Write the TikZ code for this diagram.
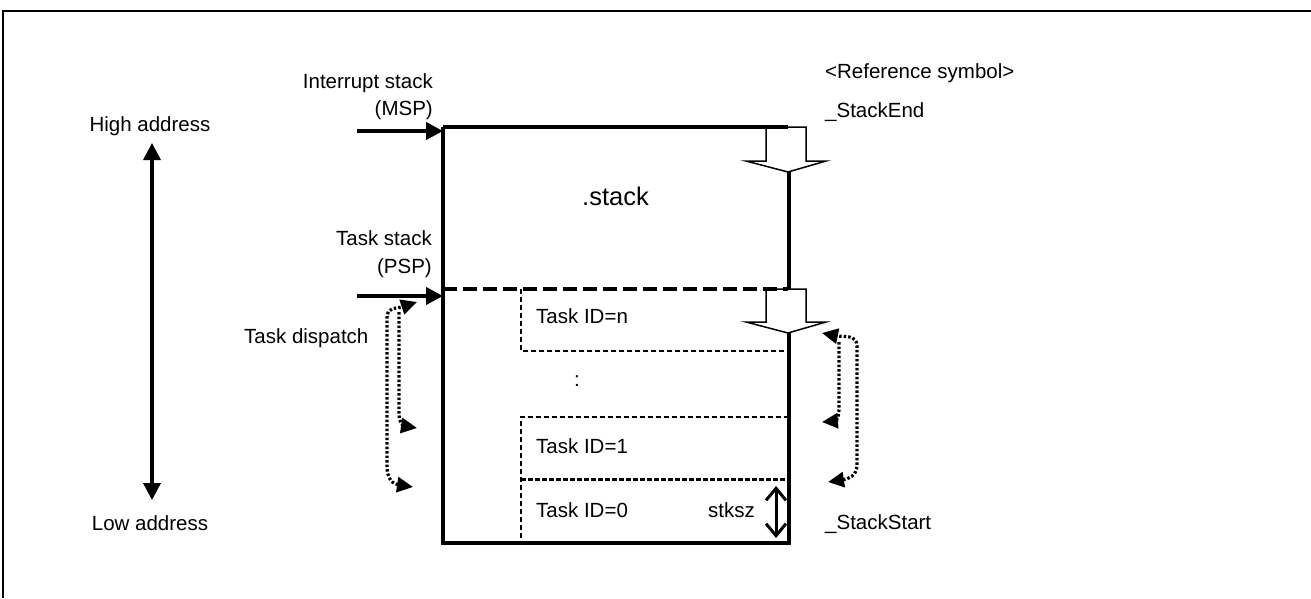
\documentclass[tikz,border=0pt]{standalone}
\usepackage{fontspec}
\setmainfont{Liberation Sans}
\usetikzlibrary{arrows.meta}
\tikzset{dtip/.tip={Triangle[length=16pt,width=15pt]}}
\begin{document}
\begin{tikzpicture}[x=1pt,y=-1pt,
  lbl/.style={inner sep=0pt, font=\fontsize{20.5}{24}\selectfont},
  boxline/.style={line width=3.5pt},
  taskline/.style={line width=1.5pt, dash pattern=on 5pt off 3pt},
  openarrow/.style={draw, fill=white, line width=1.5pt, line join=miter},
  solidarrow/.style={line width=4pt, -{Triangle[length=17pt,width=17pt]}},
  addrarrow/.style={line width=3.5pt, {Triangle[length=17pt,width=17pt]}-{Triangle[length=17pt,width=17pt]}},
  disp/.style={line width=3.2pt, dash pattern=on 2.5pt off 2pt}
]
\useasboundingbox (0,0) rectangle (1311,598);
% frame
\draw[line width=2pt] (3,598) -- (3,11) -- (1311,11);

% labels
\node[lbl, anchor=base] (high) at (150,131) {High address};
\node[lbl, anchor=base] (low) at (150,530) {Low address};
\node[lbl, anchor=base east] (isx) at (433,88) {Interrupt stack};
\node[lbl, anchor=base east] (msp) at (433,115) {(MSP)};
\node[lbl, anchor=base east] (tsx) at (432,245) {Task stack};
\node[lbl, anchor=base east] (psp) at (432,273) {(PSP)};
\node[lbl, anchor=base west] (disp) at (244,343) {Task dispatch};
\node[lbl, anchor=base west, font=\fontsize{25.5}{30}\selectfont] (stk) at (582,205) {.stack};
\node[lbl, anchor=base west] (tn) at (536,323) {Task ID=n};
\node[lbl, anchor=base west] (dots) at (574,386) {:};
\node[lbl, anchor=base west] (t1) at (536,453) {Task ID=1};
\node[lbl, anchor=base west] (t0) at (536,517) {Task ID=0};
\node[lbl, anchor=base west] (sz) at (708,517) {stksz};
\node[lbl, anchor=base west] (ref) at (825,78) {<Reference symbol>};
\node[lbl, anchor=base west] (send) at (825,117) {\_StackEnd};
\node[lbl, anchor=base west] (sstart) at (825,529) {\_StackStart};

% coordinates
\coordinate (tl) at (443,127);
\coordinate (tr) at (789,127);
\coordinate (bl) at (443,543);
\coordinate (br) at (789,543);
\coordinate (ml) at (443,289);
\coordinate (mr) at (789,289);

% box sides
\draw[boxline] (tl) -- (bl) -- (br) -- (tr);

% task boxes
\draw[taskline] (521,289) -- (521,351) -- (789,351);
\draw[taskline] (789,417) -- (521,417) -- (521,543);
\draw[line width=3pt, dash pattern=on 5pt off 2pt] (521,479) -- (789,479);

% open arrows
\draw[openarrow] (766,127) -- (806,127) -- (806,161) -- (826,161) -- (788,172) -- (746,161) -- (766,161) -- cycle;
\draw[openarrow] (766,289) -- (806,289) -- (806,322) -- (826,322) -- (788,333) -- (746,322) -- (766,322) -- cycle;

% top and dashed separator
\draw[boxline] (tl) -- (788,127);
\draw[line width=4pt, dash pattern=on 14pt off 6pt] (ml) -- (788,289);

% stack pointer arrows
\coordinate (mspS) at (357,131);
\coordinate (mspE) at (443,131);
\coordinate (pspS) at (357,296);
\coordinate (pspE) at (443,296);
\draw[solidarrow] (mspS) -- (mspE);
\draw[solidarrow] (pspS) -- (pspE);

% address arrow
\coordinate (aT) at (152,143);
\coordinate (aB) at (152,500);
\draw[addrarrow] (aB) -- (aT);

% stksz arrow
\coordinate (zT) at (776,486);
\coordinate (zB) at (776,538);
\draw[line width=3pt, {Straight Barb[length=12pt,width=20pt]}-{Straight Barb[length=12pt,width=20pt]}] (zB) -- (zT);

% dispatch arrows left
\draw[disp, {dtip}-{dtip}] (413,487) .. controls (393,484) and (387,479) .. (387,466) -- (387,318) .. controls (387,306) and (396,309) .. (417,302);
\draw[disp, -{dtip}] (399,312) -- (399,414) .. controls (399,423) and (404,426) .. (417,428);

% dispatch arrows right
\draw[disp, {dtip}-{dtip}] (828,482) .. controls (848,479) and (857,476) .. (857,465) -- (857,346) .. controls (857,334) and (842,337) .. (822,333);
\draw[disp, -{dtip}] (839,342) -- (839,409) .. controls (839,418) and (835,421) .. (822,422);
\end{tikzpicture}
\end{document}
